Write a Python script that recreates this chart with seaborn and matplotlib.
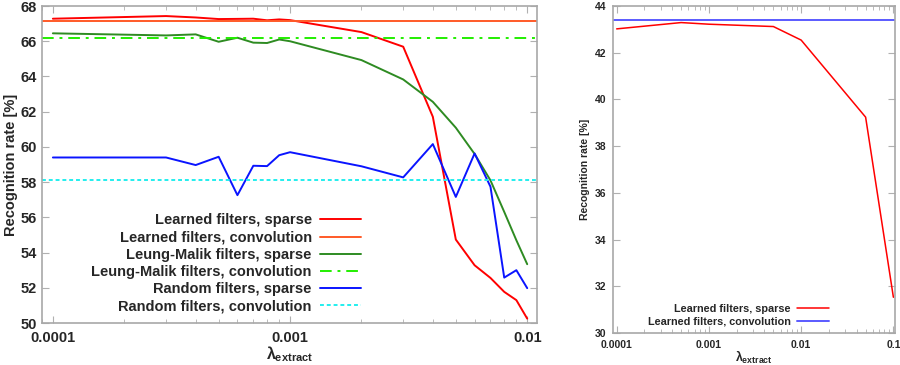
import numpy as np
import pandas as pd
import matplotlib
matplotlib.use("Agg")
import matplotlib.pyplot as plt
import seaborn as sns

# lambda_extract values (left panel, sparse runs)
lam = [1e-4, 3e-4, 4e-4, 5e-4, 6e-4, 7e-4, 8e-4, 9e-4, 1e-3,
       2e-3, 3e-3, 4e-3, 5e-3, 6e-3, 7e-3, 8e-3, 9e-3, 1e-2]
learned_sparse = [67.28, 67.43, 67.35, 67.26, 67.27, 67.28, 67.19, 67.24, 67.20,
                  66.52, 65.69, 61.71, 54.74, 53.28, 52.56, 51.77, 51.30, 50.25]
lm_sparse = [66.45, 66.33, 66.39, 65.97, 66.20, 65.92, 65.90, 66.10, 66.00,
             64.93, 63.83, 62.56, 61.09, 59.60, 58.10, 56.31, 54.70, 53.34]
random_sparse = [59.40, 59.40, 58.97, 59.44, 57.26, 58.93, 58.91, 59.53, 59.70,
                 58.90, 58.27, 60.16, 57.16, 59.63, 57.74, 52.58, 53.00, 51.98]
learned_conv = 67.17
lm_conv = 66.18
random_conv = 58.11

# right panel
lam_r = [1e-4, 5e-4, 1e-3, 5e-3, 1e-2, 5e-2, 1e-1]
learned_sparse_r = [43.02, 43.29, 43.22, 43.12, 42.54, 39.24, 31.53]
learned_conv_r = 43.40

sns.set_style("ticks")
plt.rcParams['font.family'] = ['Liberation Sans', 'DejaVu Sans']
plt.rcParams['font.weight'] = 'bold'
plt.rcParams['mathtext.fontset'] = 'custom'
plt.rcParams['mathtext.rm'] = 'Liberation Sans:bold'
plt.rcParams['mathtext.it'] = 'Liberation Sans:bold'
plt.rcParams['mathtext.bf'] = 'Liberation Sans:bold'

fig = plt.figure(figsize=(9, 3.65), dpi=100)
ax1 = fig.add_axes([0.0467, 0.115, 0.55, 0.8685])
ax2 = fig.add_axes([0.681, 0.0877, 0.3134, 0.8959])

df = pd.DataFrame({'lam': lam, 'ls': learned_sparse, 'lm': lm_sparse, 'rs': random_sparse})
lw = 1.4
sns.lineplot(data=df, x='lam', y='ls', ax=ax1, color='#ff0000', lw=lw, label='Learned filters, sparse')
ax1.axhline(learned_conv, color='#ff5a28', lw=lw, label='Learned filters, convolution')
sns.lineplot(data=df, x='lam', y='lm', ax=ax1, color='#2e8b22', lw=lw, label='Leung-Malik filters, sparse')
ax1.axhline(lm_conv, color='#22ee00', lw=lw, ls=(0, (6, 3, 1.5, 3)), label='Leung-Malik filters, convolution')
sns.lineplot(data=df, x='lam', y='rs', ax=ax1, color='#0a14ff', lw=lw, label='Random filters, sparse')
ax1.axhline(random_conv, color='#22eeee', lw=lw, ls=(0, (2, 1.5)), label='Random filters, convolution')

df_r = pd.DataFrame({'lam': lam_r, 'ls': learned_sparse_r})
sns.lineplot(data=df_r, x='lam', y='ls', ax=ax2, color='#ff0000', lw=1.1, label='Learned filters, sparse')
ax2.axhline(learned_conv_r, color='#5a5aff', lw=1.4, label='Learned filters, convolution')

def style(ax, fs, ylim, yticks, xlim, xticks, xlabels, pad, xpad):
    ax.set_xscale('log')
    ax.set_xlim(*xlim)
    ax.set_ylim(*ylim)
    ax.set_yticks(yticks)
    ax.set_xticks(xticks)
    ax.set_xticklabels(xlabels)
    ax.tick_params(which='both', direction='in', top=True, right=True,
                   color='#b0b0b0', labelsize=fs, pad=pad)
    ax.tick_params(axis='x', pad=xpad)
    ax.tick_params(which='major', length=5)
    ax.tick_params(which='minor', length=3)
    for s in ax.spines.values():
        s.set_color('#a8a8a8')
        s.set_linewidth(1.2)
    for t in ax.get_xticklabels() + ax.get_yticklabels():
        t.set_fontweight('bold')

style(ax1, 10.5, (50, 68), range(50, 69, 2), (9.0e-5, 1.1e-2),
      [1e-4, 1e-3, 1e-2], ['0.0001', '0.001', '0.01'], 3.5, 5.5)
style(ax2, 7.5, (30, 44), range(30, 45, 2), (9.1e-5, 1.04e-1),
      [1e-4, 1e-3, 1e-2, 1e-1], ['0.0001', '0.001', '0.01', '0.1'], 5, 5)

ax1.set_ylabel('Recognition rate [%]', fontsize=10.5, fontweight='bold', labelpad=2)
ax1.set_xlabel(r'$\lambda_{extract}$', fontsize=11.5, labelpad=0)
ax2.set_ylabel('Recognition rate [%]', fontsize=7.5, fontweight='bold', labelpad=3)
ax2.set_xlabel(r'$\lambda_{extract}$', fontsize=9, labelpad=-1)

leg1 = ax1.legend(loc='lower right', bbox_to_anchor=(0.645, 0.03), frameon=False,
                  markerfirst=False, fontsize=10.5, handlelength=2.8,
                  handletextpad=0.6, labelspacing=0.22, borderpad=0, borderaxespad=0)
for t in leg1.get_texts():
    t.set_fontweight('bold')
leg2 = ax2.legend(loc='lower right', bbox_to_anchor=(0.765, 0.02), frameon=False,
                  markerfirst=False, fontsize=7.8, handlelength=2.9,
                  handletextpad=0.6, labelspacing=0.2, borderpad=0, borderaxespad=0)
for t in leg2.get_texts():
    t.set_fontweight('bold')

fig.savefig('out.png', dpi=100)
